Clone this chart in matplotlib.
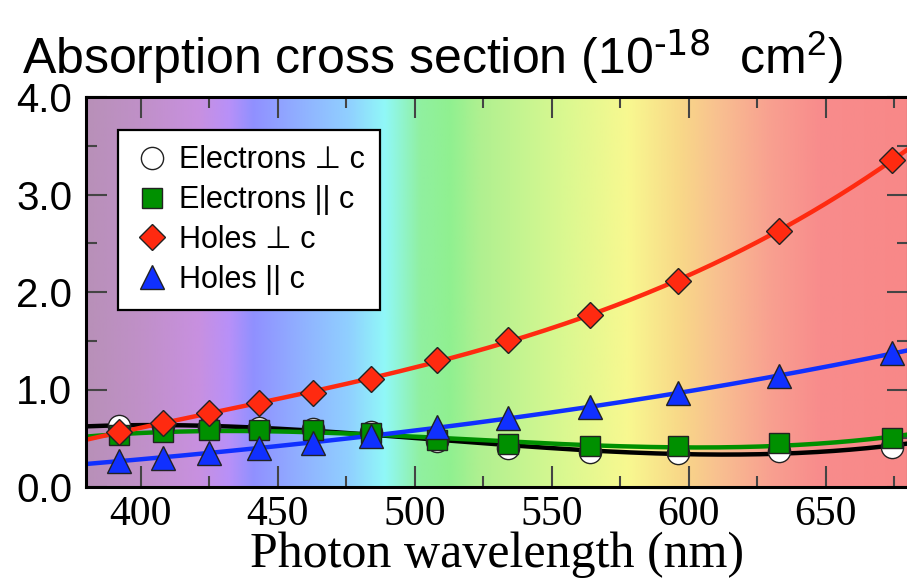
import numpy as np
import matplotlib
matplotlib.use("Agg")
import matplotlib.pyplot as plt
from matplotlib.colors import to_rgb
from matplotlib.ticker import MultipleLocator

plt.rcParams['font.family'] = ['Liberation Sans', 'DejaVu Sans']
plt.rcParams['mathtext.default'] = 'regular'

# photon wavelengths of the measured points (nm)
wavelength = [392, 408, 425, 443, 463, 484, 508, 534, 564, 596, 633, 674]

# absorption cross sections (1e-18 cm^2)
electrons_perp = [0.63, 0.63, 0.62, 0.61, 0.60, 0.56, 0.47, 0.40, 0.36, 0.35, 0.37, 0.41]
electrons_par = [0.53, 0.56, 0.58, 0.585, 0.58, 0.55, 0.48, 0.44, 0.42, 0.42, 0.45, 0.50]
holes_perp = [0.56, 0.66, 0.76, 0.86, 0.96, 1.11, 1.30, 1.51, 1.76, 2.11, 2.63, 3.35]
holes_par = [0.27, 0.30, 0.35, 0.40, 0.45, 0.52, 0.62, 0.71, 0.82, 0.96, 1.14, 1.37]

labels = ['Electrons \u22a5 c', 'Electrons || c', 'Holes \u22a5 c', 'Holes || c']

# spectrum colours behind the plot
spec_nm = [380, 400, 421, 432, 441, 458, 476, 489, 502, 513, 524, 553, 578, 597, 611, 630, 648, 680]
spec_col = ['#b890b8', '#c090c8', '#c890e0', '#b890f8', '#9090ff', '#90b0ff', '#90d0ff',
            '#90f8f8', '#90f0a0', '#90f090', '#b0f090', '#d8f890', '#f8f890', '#f8d888',
            '#f8c090', '#f8a090', '#f88c8c', '#f88888']

xmin, xmax = 380, 680

fig = plt.figure(figsize=(9.07, 5.83), dpi=100)
ax = fig.add_axes([86/907, 96/583, 822/907, 390/583])

grid = np.linspace(xmin, xmax, 600)
rgb = np.array([to_rgb(c) for c in spec_col])
band = np.stack([np.interp(grid, spec_nm, rgb[:, k]) for k in range(3)], axis=-1)
ax.imshow(band[np.newaxis, :, :], extent=[xmin, xmax, 0, 4], aspect='auto', zorder=0,
          interpolation='bilinear')

series = [
    (electrons_perp, 'black', 'o', 'white'),
    (electrons_par, '#009000', 's', '#009000'),
    (holes_perp, '#ff2a10', 'D', '#ff2a10'),
    (holes_par, '#1030ff', '^', '#1030ff'),
]
sizes = {'o': 16, 's': 14, 'D': 13, '^': 17}
wl = np.array(wavelength)
xs = np.linspace(xmin, xmax, 300)
# smooth cubic fits drawn under the points
for (vals, lc, mk, fc), lab in zip(series, labels):
    coef = np.polyfit((wl - 530) / 100, vals, 3)
    ax.plot(xs, np.polyval(coef, (xs - 530) / 100), color=lc, lw=3.2, zorder=2)
for (vals, lc, mk, fc), lab in zip(series, labels):
    ax.plot(wavelength, vals, ls='none', marker=mk, ms=sizes[mk], mfc=fc, mec='#222222',
            mew=1.0, zorder=3, label=lab)

ax.set_xlim(xmin, xmax)
ax.set_ylim(0, 4)
ax.xaxis.set_major_locator(MultipleLocator(50))
ax.xaxis.set_minor_locator(MultipleLocator(25))
ax.yaxis.set_major_locator(MultipleLocator(1))
ax.yaxis.set_minor_locator(MultipleLocator(0.5))
ax.yaxis.set_major_formatter(matplotlib.ticker.FormatStrFormatter('%.1f'))
ax.tick_params(which='both', direction='in', top=True, right=True, color='#444444', width=1.5)
ax.tick_params(which='major', length=15)
ax.tick_params(which='minor', length=8)
ax.tick_params(axis='y', labelsize=29, pad=10)
ax.tick_params(axis='x', labelsize=30, pad=6)
for t in ax.get_xticklabels():
    t.set_family('Liberation Serif')
for sp in ax.spines.values():
    sp.set_linewidth(2.2)

ax.set_xlabel('Photon wavelength (nm)', family='Liberation Serif', fontsize=36, labelpad=-2)
fig.text(22/907, 1 - 74/583, r'Absorption cross section (10$^{\text{-18}}$  cm$^{2}$)',
         fontsize=36, ha='left', va='baseline')

leg = ax.legend(loc='upper left', bbox_to_anchor=(0.039, 0.915), borderaxespad=0,
                fontsize=22, fancybox=False, framealpha=1, edgecolor='black',
                handletextpad=0.3, labelspacing=0.32, borderpad=0.5, handlelength=1.2)
leg.get_frame().set_linewidth(1.6)

fig.savefig('out.png', dpi=100)
